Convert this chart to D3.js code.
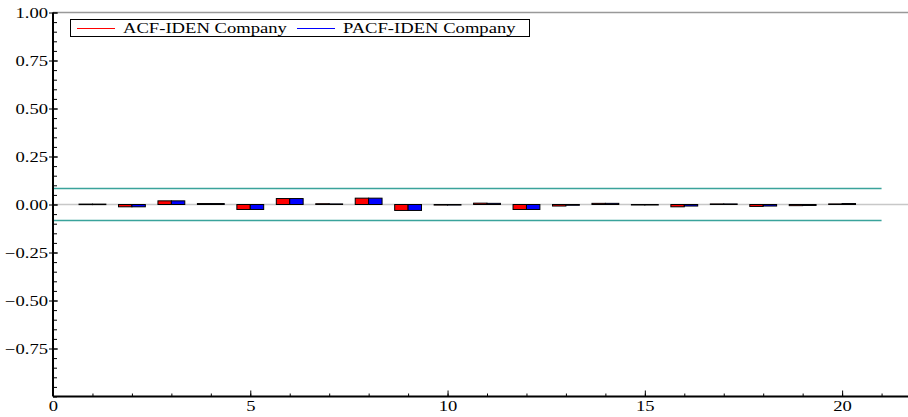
<!DOCTYPE html>
<html><head><meta charset="utf-8">
<script src="https://cdn.jsdelivr.net/npm/d3@7"></script>
<style>body{margin:0;background:#fff}svg{display:block}
svg text{font-family:"Liberation Serif","Times New Roman",Times,"DejaVu Serif","Noto Serif",serif !important}</style>
</head><body><svg id="c" width="908" height="417"></svg>
<script>
const lags = [1,2,3,4,5,6,7,8,9,10,11,12,13,14,15,16,17,18,19,20];
const acf  = [0.002,-0.012,0.019,0.005,-0.026,0.031,0.004,0.033,-0.031,-0.003,0.007,-0.026,-0.008,0.006,-0.002,-0.012,0.003,-0.010,-0.006,0.003];
const pacf = [0.002,-0.012,0.019,0.005,-0.026,0.031,0.003,0.033,-0.031,-0.003,0.006,-0.026,-0.004,0.006,-0.002,-0.008,0.003,-0.008,-0.005,0.005];
const seriesNames = ["ACF-IDEN Company","PACF-IDEN Company"];
const seriesColors = ["#ff0000","#0000ff"];
const band = 0.083;
const yTicks = [1.00,0.75,0.50,0.25,0.00,-0.25,-0.50,-0.75];
const xTicks = [0,5,10,15,20];

const SX = 1.33; // horizontal stretch of text as in reference
const svg = d3.select("#c");
const x = d3.scaleLinear().domain([0,21.67]).range([53,908]);
const y = d3.scaleLinear().domain([-1,1]).range([396.5,12.5]);
const bw = 0.34;

svg.append("line").attr("x1",x(0)).attr("x2",908).attr("y1",y(1)).attr("y2",y(1)).attr("stroke","#999").attr("stroke-width",1.5);
svg.append("line").attr("x1",x(0)).attr("x2",908).attr("y1",y(0)).attr("y2",y(0)).attr("stroke","#c8c8c8").attr("stroke-width",1.5);
[band,-band].forEach(v=>svg.append("line").attr("x1",x(0)).attr("x2",x(21)).attr("y1",y(v)).attr("y2",y(v)).attr("stroke","#3aa39b").attr("stroke-width",1.5));

const data = lags.map((l,i)=>({l,a:acf[i],p:pacf[i]}));
svg.append("g").selectAll("rect").data(data).join("rect")
  .attr("x",d=>x(d.l-bw)).attr("width",d=>x(bw)-x(0))
  .attr("y",d=>y(Math.max(0,d.a))).attr("height",d=>Math.max(0.5,Math.abs(y(d.a)-y(0))))
  .attr("fill",seriesColors[0]).attr("stroke","#000").attr("stroke-width",1);
svg.append("g").selectAll("rect").data(data).join("rect")
  .attr("x",d=>x(d.l)).attr("width",d=>x(bw)-x(0))
  .attr("y",d=>y(Math.max(0,d.p))).attr("height",d=>Math.max(0.5,Math.abs(y(d.p)-y(0))))
  .attr("fill",seriesColors[1]).attr("stroke","#000").attr("stroke-width",1);

// y axis
const yAx = svg.append("g").attr("transform",`translate(${x(0)},0)`);
yAx.call(d3.axisLeft(y).tickValues(d3.range(-1,1.0001,0.05)).tickSize(-4).tickFormat(""));
yAx.selectAll(".tick line").attr("stroke","#000");
yAx.select(".domain").remove();
yAx.append("line").attr("y1",y(1)).attr("y2",y(-1)).attr("stroke","#000").attr("stroke-width",2);
const yMaj = svg.append("g").attr("transform",`translate(${x(0)},0)`)
  .call(d3.axisLeft(y).tickValues(yTicks).tickSize(4).tickFormat(d3.format(".2f")));
yMaj.select(".domain").remove();
yMaj.selectAll(".tick line").attr("x2",-4).attr("x1",5);
yMaj.selectAll("text").attr("font-size",14).attr("fill","#000").attr("x",0).attr("dy","0.34em")
  .attr("transform",`translate(-5,0) scale(${SX},1)`);

// x axis
const xAx = svg.append("g").attr("transform",`translate(0,${y(-1)})`);
xAx.call(d3.axisBottom(x).tickValues(d3.range(0,22,1)).tickSize(-3).tickFormat(""));
xAx.select(".domain").remove();
xAx.append("line").attr("x1",x(0)).attr("x2",908).attr("stroke","#000").attr("stroke-width",2);
const xMaj = svg.append("g").attr("transform",`translate(0,${y(-1)})`)
  .call(d3.axisBottom(x).tickValues(xTicks).tickSize(-6).tickFormat(d3.format("d")));
xMaj.select(".domain").remove();
xMaj.selectAll("text").attr("font-size",14).attr("fill","#000").attr("y",0).attr("dy","0.71em")
  .attr("transform",`translate(0,5) scale(${SX},1)`);

// legend
const lg = svg.append("g");
lg.append("rect").attr("x",70.5).attr("y",19.5).attr("width",459).attr("height",17).attr("fill","#fff").attr("stroke","#000").attr("stroke-width",1);
const lx = [77,297];
seriesNames.forEach((n,i)=>{
  lg.append("line").attr("x1",lx[i]).attr("x2",lx[i]+38).attr("y1",28.5).attr("y2",28.5).attr("stroke",seriesColors[i]).attr("stroke-width",1.2);
  lg.append("text").attr("x",0).attr("y",0).attr("font-size",14)
    .attr("transform",`translate(${lx[i]+46},33) scale(${SX},1)`).text(n);
});
</script></body></html>
